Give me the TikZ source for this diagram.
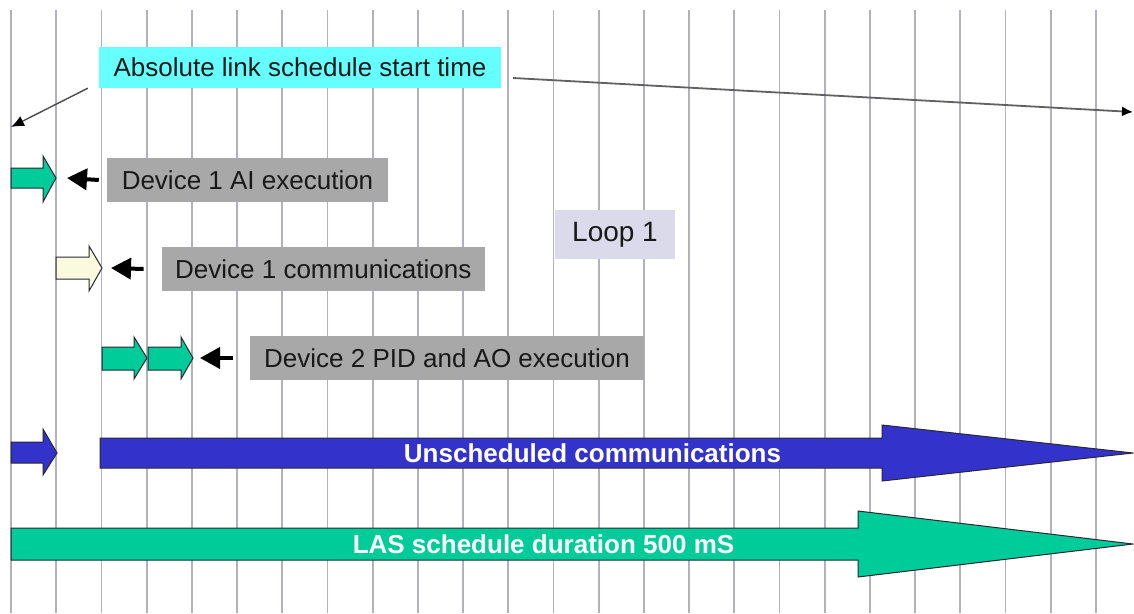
\documentclass[tikz,border=0pt]{standalone}
\usepackage{fontspec}
\setmainfont{Liberation Sans}
\usepackage{tikz}
\usetikzlibrary{arrows.meta,positioning,calc}
\definecolor{gridgray}{RGB}{178,178,188}
\definecolor{labelgray}{RGB}{168,168,168}
\definecolor{startcyan}{RGB}{102,255,255}
\definecolor{loopfill}{RGB}{218,218,234}
\definecolor{execgreen}{RGB}{0,204,153}
\definecolor{commcream}{RGB}{250,250,222}
\definecolor{unschedblue}{RGB}{51,51,204}
\definecolor{edgedark}{RGB}{40,40,50}
\tikzset{
  gridline/.style={draw=gridgray, line width=1.8pt},
  lbl/.style={rectangle, fill=labelgray, minimum height=44pt, inner sep=0pt,
              text=black!90, font=\fontsize{26}{30}\selectfont},
  startbox/.style={lbl, fill=startcyan, minimum height=41pt},
  loopbox/.style={lbl, fill=loopfill, minimum height=49pt,
              font=\fontsize{28}{32}\selectfont},
  blk/.style={draw=edgedark, line width=1pt, line join=miter},
  bartext/.style={text=white, inner sep=0pt, font=\fontsize{26}{30}\selectfont\bfseries},
  ptr/.style={-{Triangle[length=20pt,width=21pt]}, line width=4pt},
  thinarr/.style={-{Latex[length=13pt,width=11pt,black]}, line width=1.4pt, draw=black!70},
  longarr/.style={-{Latex[length=11pt,width=10pt,black]}, line width=1.8pt, draw=black!62}
}
\begin{document}
\begin{tikzpicture}[x=1pt, y=-1pt]
  \useasboundingbox (0,0) rectangle (1134,613);
  \fill[white] (0,0) rectangle (1134,613);
  % time slots
  \foreach \k in {0,...,24}
    \draw[gridline] ({11+45.2*\k},10) -- ({11+45.2*\k},613);

  % labels
  \node[startbox, minimum width=402pt] (starttime) at (300,67.5) {Absolute link schedule start time};
  \node[lbl, minimum width=281pt] (aiexec) at (247.5,180) {Device 1 AI execution};
  \node[lbl, minimum width=323pt] (comm) at (323.3,269) {Device 1 communications};
  \node[lbl, minimum width=394pt] (pidexec) at (447,358) {Device 2 PID and AO execution};
  \node[loopbox, minimum width=120pt] (loop) at (615,234.5) {Loop 1};

  % block arrows
  \filldraw[blk, fill=execgreen] (11,168) -- (43,168) -- (43,156) -- (56,178)
    -- (43,202) -- (43,188) -- (11,188) -- cycle;
  \filldraw[blk, fill=commcream] (56,257) -- (89,257) -- (89,246) -- (102,268)
    -- (89,291) -- (89,279) -- (56,279) -- cycle;
  \filldraw[blk, fill=execgreen] (102,347) -- (134,347) -- (134,337) -- (147,358)
    -- (134,379) -- (134,370) -- (102,370) -- cycle;
  \filldraw[blk, fill=execgreen] (148,347) -- (181,347) -- (181,337) -- (193,358)
    -- (181,379) -- (181,370) -- (148,370) -- cycle;
  \filldraw[blk, fill=unschedblue] (11,442) -- (43,442) -- (43,429) -- (57,453)
    -- (43,475) -- (43,463) -- (11,463) -- cycle;
  \filldraw[blk, fill=unschedblue] (100,438) -- (882,438) -- (882,425) -- (1133,453)
    -- (882,481) -- (882,468) -- (100,468) -- cycle;
  \filldraw[blk, fill=execgreen] (11,528) -- (858,528) -- (858,511) -- (1133,544)
    -- (858,577) -- (858,560) -- (11,560) -- cycle;
  \node[bartext] (unsched) at (592.5,453) {Unscheduled communications};
  \node[bartext] (lasdur) at (543.5,544) {LAS schedule duration 500 mS};

  % tips
  \coordinate (aitip) at (56,178);
  \coordinate (commtip) at (102,268);
  \coordinate (pidtip) at (193,358);
  \coordinate (t0) at (11,127);
  \coordinate (tend) at (1133,112);

  % pointers
  \draw[ptr] ([xshift=-8pt]aiexec.west) -- ([xshift=11pt]aitip);
  \draw[ptr] ([xshift=-18pt]comm.west) -- ([xshift=9pt]commtip);
  \draw[ptr] ([xshift=-17pt]pidexec.west) -- ([xshift=7pt]pidtip);
  \draw[thinarr] ([xshift=-11pt]starttime.south west) -- (t0);
  \draw[longarr] ([xshift=12pt,yshift=-10.5pt]starttime.east) -- (tend);
\end{tikzpicture}
\end{document}
